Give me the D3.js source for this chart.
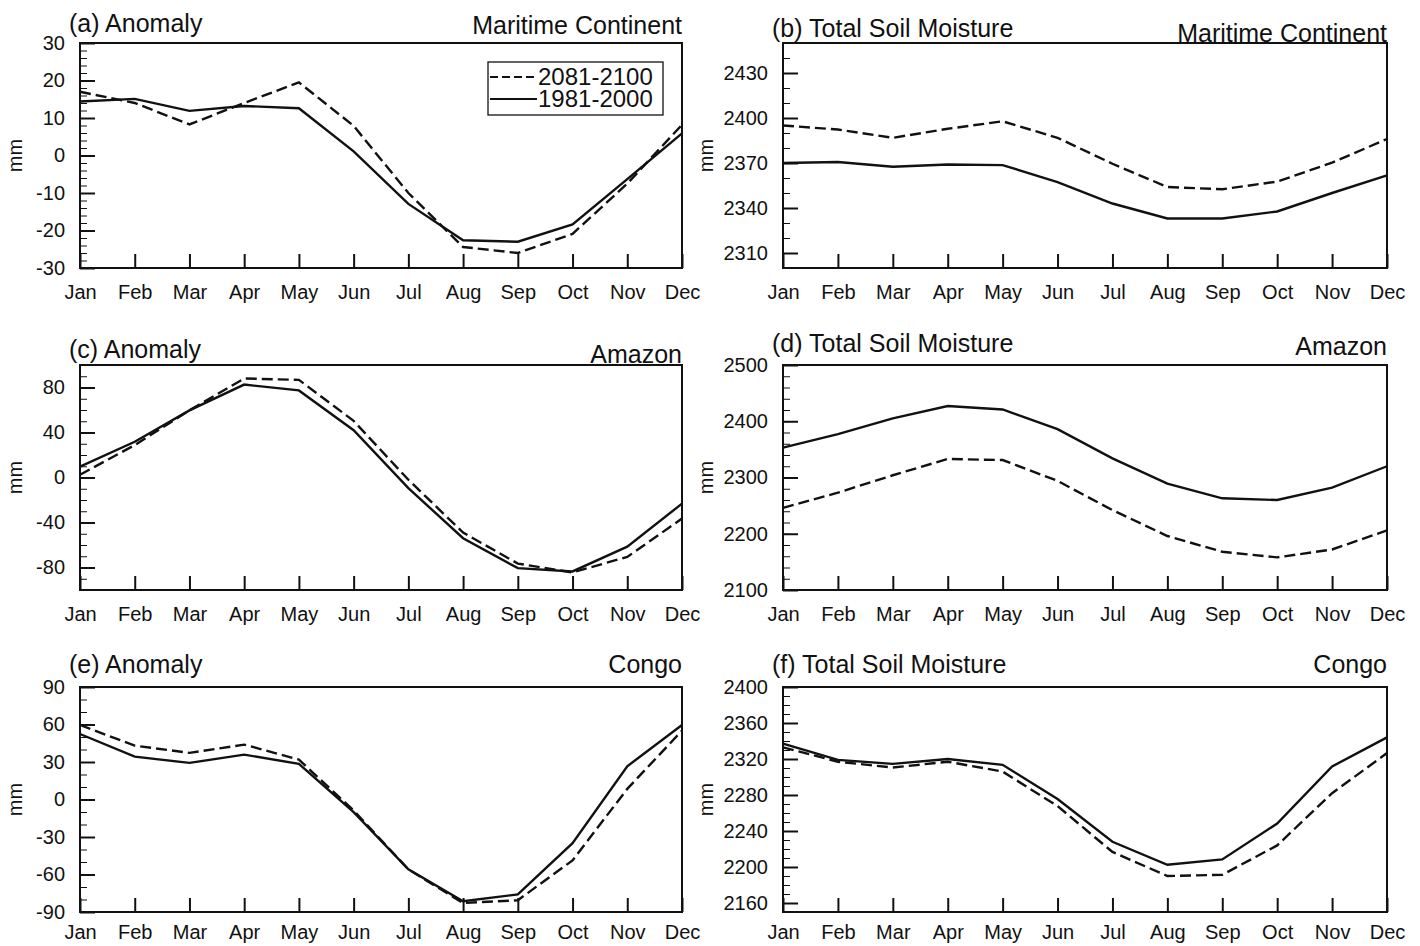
<!DOCTYPE html>
<html>
<head>
<meta charset="utf-8">
<script src="https://cdn.jsdelivr.net/npm/d3@7"></script>
<style>
  body { margin: 0; background: #fff; }
  svg { display: block; font-family: "Liberation Sans", Arial, Helvetica, sans-serif; }
</style>
</head>
<body>
<svg id="chart" width="1420" height="946"></svg>
<script>
const months = ['Jan','Feb','Mar','Apr','May','Jun','Jul','Aug','Sep','Oct','Nov','Dec'];
const legendLabels = ['2081-2100', '1981-2000'];

// Maritime Continent
const anomMC_2081 = [17, 14, 8.3, 14, 19.5, 7.9, -10, -24.4, -26, -20.9, -7.5, 8.2];
const anomMC_1981 = [14.4, 15.1, 11.9, 13.2, 12.6, 1.1, -12.9, -22.6, -23, -18.4, -6.3, 5.9];
const tsmMC_2081 = [2395, 2392.3, 2386.8, 2392.8, 2397.8, 2386.8, 2369.5, 2354, 2352.5, 2357.6, 2370.2, 2386];
const tsmMC_1981 = [2370, 2370.7, 2367.5, 2369, 2368.6, 2357.3, 2343, 2333, 2333, 2337.7, 2350, 2361.8];

// Amazon
const anomAM_2081 = [2.4, 28.8, 59.7, 88, 86.8, 50.3, -2, -49, -76.5, -84.4, -70.6, -36.5];
const anomAM_1981 = [9.7, 31.8, 59.7, 82.6, 77.4, 42, -9.4, -54, -80.6, -83.5, -61.5, -23.2];
const tsmAM_2081 = [2246, 2273, 2304, 2333, 2331, 2294, 2242, 2196, 2168, 2158, 2172, 2206];
const tsmAM_1981 = [2353, 2377, 2405, 2427, 2421, 2386, 2334, 2289, 2263, 2260, 2282, 2320];

// Congo
const anomCG_2081 = [59.6, 43.1, 37.3, 43.9, 31.9, -8.8, -55.9, -82.8, -80.6, -48.7, 8.5, 55.1];
const anomCG_1981 = [52.4, 34.3, 29.3, 35.9, 28.5, -10.1, -55.9, -81.4, -75.9, -34.9, 26.6, 59.6];
const tsmCG_2081 = [2333, 2317, 2310.5, 2317, 2306, 2267.7, 2216.7, 2190, 2191.3, 2224, 2282, 2326.6];
const tsmCG_1981 = [2337, 2319, 2314.6, 2320, 2313.5, 2275.5, 2228, 2202.5, 2208.4, 2248.3, 2311.7, 2344];

const svg = d3.select('#chart');

// panel layout
const panels = [
  {x0: 80, x1: 682, y0: 43, y1: 268, left: '(a) Anomaly', right: 'Maritime Continent', lb: 32, rb: 34, xpad: 17,
   dash: anomMC_2081, solid: anomMC_1981, domain: [-30, 30], major: d3.range(-30, 31, 10), minor: d3.range(-30, 31, 2), legend: true},
  {x0: 783, x1: 1387, y0: 43, y1: 268, left: '(b) Total Soil Moisture', right: 'Maritime Continent', lb: 37, rb: 42, xpad: 17,
   dash: tsmMC_2081, solid: tsmMC_1981, domain: [2300, 2450], major: d3.range(2310, 2431, 30), minor: d3.range(2300, 2451, 10)},
  {x0: 80, x1: 682, y0: 365, y1: 590, left: '(c) Anomaly', right: 'Amazon', lb: 358, rb: 363, xpad: 17,
   dash: anomAM_2081, solid: anomAM_1981, domain: [-100, 100], major: d3.range(-80, 81, 40), minor: d3.range(-100, 101, 10)},
  {x0: 783, x1: 1387, y0: 365, y1: 590, left: '(d) Total Soil Moisture', right: 'Amazon', lb: 352, rb: 355, xpad: 17,
   dash: tsmAM_2081, solid: tsmAM_1981, domain: [2100, 2500], major: d3.range(2100, 2501, 100), minor: d3.range(2100, 2501, 20)},
  {x0: 80, x1: 682, y0: 687, y1: 912, left: '(e) Anomaly', right: 'Congo', lb: 673, rb: 673, xpad: 13,
   dash: anomCG_2081, solid: anomCG_1981, domain: [-90, 90], major: d3.range(-90, 91, 30), minor: d3.range(-90, 91, 10)},
  {x0: 783, x1: 1387, y0: 687, y1: 912, left: '(f) Total Soil Moisture', right: 'Congo', lb: 673, rb: 673, xpad: 13,
   dash: tsmCG_2081, solid: tsmCG_1981, domain: [2150, 2400], major: d3.range(2160, 2401, 40), minor: d3.range(2150, 2401, 10)}
];

panels.forEach(p => {
  const x = d3.scalePoint().domain(months).range([p.x0, p.x1]);
  const y = d3.scaleLinear().domain(p.domain).range([p.y1, p.y0]);
  const g = svg.append('g');

  // minor y ticks
  g.append('g')
    .attr('transform', `translate(${p.x0},0)`)
    .call(d3.axisLeft(y).tickValues(p.minor).tickSize(-7).tickFormat(''))
    .call(a => a.select('.domain').remove())
    .call(a => a.selectAll('line').attr('stroke', '#111').attr('stroke-width', 1));

  // major y ticks (plain hyphen for negatives, as in the original)
  g.append('g')
    .attr('transform', `translate(${p.x0},0)`)
    .call(d3.axisLeft(y).tickValues(p.major).tickSize(-15).tickPadding(15).tickFormat(d => String(d)))
    .call(a => a.select('.domain').remove())
    .call(a => a.selectAll('line').attr('stroke', '#111').attr('stroke-width', 2))
    .call(a => a.selectAll('text').attr('font-size', 20).attr('fill', '#111').attr('font-family', null));

  // x ticks
  g.append('g')
    .attr('transform', `translate(0,${p.y1})`)
    .call(d3.axisBottom(x).tickSize(-14).tickPadding(p.xpad))
    .call(a => a.select('.domain').remove())
    .call(a => a.selectAll('line').attr('stroke', '#111').attr('stroke-width', 2))
    .call(a => a.selectAll('text').attr('font-size', 20).attr('fill', '#111').attr('font-family', null));

  // frame
  g.append('rect')
    .attr('x', p.x0).attr('y', p.y0)
    .attr('width', p.x1 - p.x0).attr('height', p.y1 - p.y0)
    .attr('fill', 'none').attr('stroke', '#111').attr('stroke-width', 2);

  const line = d3.line().x((d, i) => x(months[i])).y(d => y(d));

  g.append('path').datum(p.dash)
    .attr('d', line).attr('fill', 'none')
    .attr('stroke', '#111').attr('stroke-width', 2.4).attr('stroke-dasharray', '11,5');
  g.append('path').datum(p.solid)
    .attr('d', line).attr('fill', 'none')
    .attr('stroke', '#111').attr('stroke-width', 2.4);

  // titles
  g.append('text').attr('x', p.x0 - 11).attr('y', p.lb)
    .attr('font-size', 25).attr('fill', '#111').text(p.left);
  g.append('text').attr('x', p.x1).attr('y', p.rb)
    .attr('font-size', 25).attr('fill', '#111').attr('text-anchor', 'end').text(p.right);

  // y label
  const lx = p.x0 < 400 ? 15 : 706;
  g.append('text')
    .attr('transform', `translate(${lx},${(p.y0 + p.y1) / 2}) rotate(-90)`)
    .attr('text-anchor', 'middle').attr('dy', '0.35em')
    .attr('font-size', 20).attr('fill', '#111').text('mm');

  if (p.legend) {
    const lg = g.append('g').attr('transform', `translate(${p.x1 - 194},${p.y0 + 19})`);
    lg.append('rect').attr('width', 175).attr('height', 53)
      .attr('fill', '#fff').attr('stroke', '#111').attr('stroke-width', 1.3);
    legendLabels.forEach((lab, i) => {
      const yy = 15 + i * 22;
      lg.append('line').attr('x1', 2).attr('x2', 49).attr('y1', yy).attr('y2', yy)
        .attr('stroke', '#111').attr('stroke-width', 2)
        .attr('stroke-dasharray', i === 0 ? '8,4' : null);
      lg.append('text').attr('x', 50).attr('y', yy + 8)
        .attr('font-size', 24).attr('fill', '#111').text(lab);
    });
  }
});
</script>
</body>
</html>
